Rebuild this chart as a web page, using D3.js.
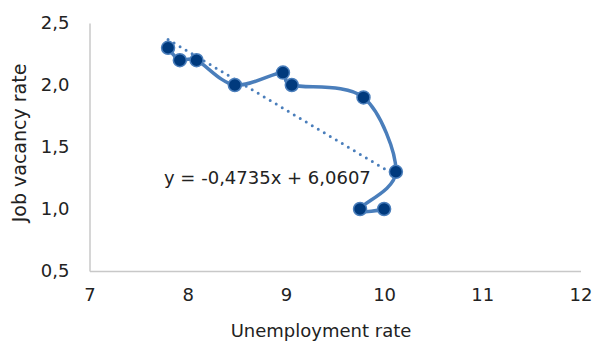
<!DOCTYPE html>
<html>
<head>
<meta charset="utf-8">
<script src="https://cdn.jsdelivr.net/npm/d3@7"></script>
<style>
  html, body { margin: 0; padding: 0; background: #fff; }
  svg text { font-family: "Century Gothic", "DejaVu Sans", sans-serif; fill: #222; }
</style>
</head>
<body>
<svg id="chart" width="593" height="343"></svg>
<script>
// Unemployment rate vs job vacancy rate (Beveridge curve), in time order
const unemployment = [7.8, 7.92, 8.09, 8.48, 8.97, 9.06, 9.79, 10.12, 9.755, 10.0];
const vacancies    = [2.3, 2.2, 2.2, 2.0, 2.1, 2.0, 1.9, 1.3, 1.0, 1.0];
const xTicks = [7, 8, 9, 10, 11, 12];
const yTicks = [0.5, 1.0, 1.5, 2.0, 2.5];
// Linear trend line fitted to the series
const trendSlope = -0.4735;
const trendIntercept = 6.0607;

const svg = d3.select("#chart");
const margin = { left: 89.5, right: 12.5, top: 23, bottom: 72 };
const W = 593, H = 343;

const x = d3.scaleLinear().domain([7, 12]).range([margin.left, W - margin.right]);
const y = d3.scaleLinear().domain([0.5, 2.5]).range([H - margin.bottom, margin.top]);

const fmt = d => d3.format(".1f")(d).replace(".", ",");

// Axes: light grey lines, no tick marks
const xAxis = svg.append("g")
  .attr("transform", `translate(0,${y(0.5)})`)
  .call(d3.axisBottom(x).tickValues(xTicks).tickSize(0).tickPadding(17).tickFormat(d3.format("d")));
const yAxis = svg.append("g")
  .attr("transform", `translate(${x(7)},0)`)
  .call(d3.axisLeft(y).tickValues(yTicks).tickSize(0).tickPadding(20).tickFormat(fmt));

[xAxis, yAxis].forEach(g => {
  g.select(".domain").attr("stroke", "#c8c8c8").attr("stroke-width", 1.5);
  g.selectAll("text").attr("font-size", 18).attr("fill", "#222")
    .style("font-family", '"Century Gothic", "DejaVu Sans", sans-serif');
});

// Axis titles
svg.append("text")
  .attr("x", (x(7) + x(12)) / 2 - 14).attr("y", 337)
  .attr("text-anchor", "middle").attr("font-size", 18)
  .text("Unemployment rate");
svg.append("text")
  .attr("transform", `translate(26,${(y(0.5) + y(2.5)) / 2 - 4}) rotate(-90)`)
  .attr("text-anchor", "middle").attr("font-size", 19)
  .text("Job vacancy rate");

const pts = unemployment.map((u, i) => [u, vacancies[i]]);

// Dotted linear trend line across the data range
const xMin = d3.min(unemployment), xMax = d3.max(unemployment);
svg.append("line")
  .attr("x1", x(xMin)).attr("y1", y(trendSlope * xMin + trendIntercept))
  .attr("x2", x(xMax)).attr("y2", y(trendSlope * xMax + trendIntercept))
  .attr("stroke", "#4a7ebb").attr("stroke-width", 3)
  .attr("stroke-linecap", "round").attr("stroke-dasharray", "0 7");

// Smoothed connecting line
const line = d3.line()
  .x(d => x(d[0])).y(d => y(d[1]))
  .curve(d3.curveCardinal.tension(0));
svg.append("path")
  .datum(pts)
  .attr("d", line)
  .attr("fill", "none")
  .attr("stroke", "#4a7ebb")
  .attr("stroke-width", 3.5)
  .attr("stroke-linejoin", "round");

// Markers
svg.selectAll("circle.pt")
  .data(pts)
  .join("circle")
  .attr("class", "pt")
  .attr("cx", d => x(d[0])).attr("cy", d => y(d[1]))
  .attr("r", 6.5)
  .attr("fill", "#003a7d")
  .attr("stroke", "#4a7ebb")
  .attr("stroke-width", 1.5);

// Trend equation label
svg.append("text")
  .attr("x", 164).attr("y", 184)
  .attr("font-size", 18)
  .text(`y = ${String(trendSlope).replace(".", ",")}x + ${String(trendIntercept).replace(".", ",")}`);
</script>
</body>
</html>
